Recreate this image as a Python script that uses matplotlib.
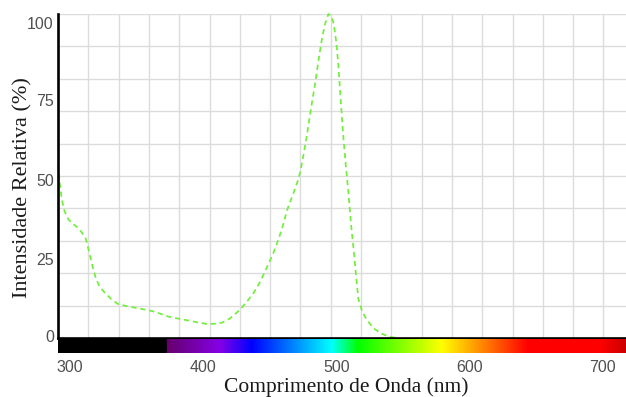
import numpy as np
import matplotlib
matplotlib.use("Agg")
import matplotlib.pyplot as plt
from matplotlib.transforms import ScaledTranslation

# ---- data ----
wavelength_nm = [291, 292.5, 294, 296, 299, 302, 306, 309, 312, 313.5, 315, 317, 319,
                 322, 326, 331, 336, 343, 351, 357, 364, 369, 374, 381, 389, 396,
                 403, 409, 414, 420, 427, 432, 438, 443, 448, 453, 457, 460, 463,
                 468, 471, 473, 475.5, 478, 481, 484, 486.5, 489, 491.5, 494, 496,
                 498, 500, 501.5, 503.3, 505, 507, 509, 511, 513, 514.8, 516.5,
                 519.5, 523, 528, 533, 539, 545]
intensity_pct = [53.5, 47, 42.5, 39, 36.5, 35.3, 34, 32.5, 30.5, 28, 25.5, 22, 19,
                 16, 14, 12, 10.5, 9.8, 9.2, 8.7, 8.1, 7.3, 6.6, 6, 5.4, 4.8,
                 4.3, 4.4, 4.7, 6, 8.5, 10.8, 14, 17.5, 22, 26.5, 31, 35, 39.5,
                 45, 48.5, 51.5, 57, 63, 71, 78.5, 85.5, 92, 97, 100, 99.5,
                 97, 91, 84, 73, 63, 53.5, 45, 35, 27, 19, 12,
                 8, 5.5, 3, 1.5, 0.5, 0]
x_tick_values = [300, 400, 500, 600, 700]
y_tick_values = [0, 25, 50, 75, 100]

# ---- layout ----
W, H = 626, 397
x_min, x_max = 291.0, 717.4
fig = plt.figure(figsize=(W / 100, H / 100), dpi=100)
ax = fig.add_axes([58 / W, 1 - 338 / H, (W - 58) / W, (338 - 14) / H])
cax = fig.add_axes([58 / W, 1 - 353 / H, (W - 58) / W, 14 / H])

# main plot
ax.plot(wavelength_nm, intensity_pct, color="#72ee3c", lw=1.25,
        linestyle=(0, (3, 2.2)), zorder=3, clip_on=False)
ax.set_xlim(x_min, x_max)
ax.set_ylim(0, 100)

grid_step = 22.75
grid_x = np.arange(x_min + grid_step, x_max, grid_step)
ax.set_xticks([])
ax.set_xticks(grid_x, minor=True)
ax.set_yticks(y_tick_values)
ax.set_yticks(np.arange(0, 101, 10), minor=True)
ax.yaxis.remove_overlapping_locs = False
ax.grid(False, which="major")
ax.grid(True, which="minor", color="#dcdcdc", lw=1.0)
ax.set_axisbelow(True)
ax.tick_params(which="both", length=0)
ax.tick_params(axis="y", which="major", pad=3, labelsize=11.5, labelcolor="#505050")
label_shift_px = [-2, 2, 4, 5, 9]
for lab, dy in zip(ax.get_yticklabels(), label_shift_px):
    lab.set_fontfamily(["Liberation Sans Narrow", "Liberation Sans"])
    lab.set_transform(lab.get_transform() + ScaledTranslation(0, -dy / 100, fig.dpi_scale_trans))
for s in ("top", "right"):
    ax.spines[s].set_visible(False)
for s in ("left", "bottom"):
    ax.spines[s].set_color("black")
    ax.spines[s].set_linewidth(1.9)
    ax.spines[s].set_zorder(5)

# spectrum bar
anchors_nm = [x_min, 372.5, 372.6, 412.6, 436.4, 496.5, 516.2, 579.0, 643.8, 697.9, x_max]
anchors_rgb = [(0, 0, 0), (0, 0, 0), (0.40, 0.0, 0.42), (0.52, 0.0, 0.90), (0, 0, 1),
               (0, 1, 1), (0, 1, 0), (1, 1, 0), (1, 0, 0), (1, 0, 0), (0.80, 0, 0)]
wl = np.linspace(x_min, x_max, 1200)
arr = np.array(anchors_rgb)
rgb = np.stack([np.interp(wl, anchors_nm, arr[:, i]) for i in range(3)], axis=-1)
cax.imshow(rgb[None, :, :], extent=(x_min, x_max, 0, 1), aspect="auto")
cax.set_xlim(x_min, x_max)
cax.set_yticks([])
cax.set_xticks(x_tick_values)
cax.tick_params(axis="x", length=0, pad=5, labelsize=11.5, labelcolor="#505050")
for lab in cax.get_xticklabels():
    lab.set_fontfamily(["Liberation Sans Narrow", "Liberation Sans"])
for s in cax.spines.values():
    s.set_visible(False)

# axis titles
fig.text(346 / W, 1 - 387 / H, "Comprimento de Onda (nm)", ha="center", va="center",
         fontsize=15.5, family="Liberation Serif", color="#1a1a1a")
fig.text(23 / W, 1 - 187.5 / H, "Intensidade Relativa (%)", ha="center", va="center",
         rotation=90, fontsize=16, family="Liberation Serif", color="#1a1a1a")

fig.savefig("out.png", dpi=100)
